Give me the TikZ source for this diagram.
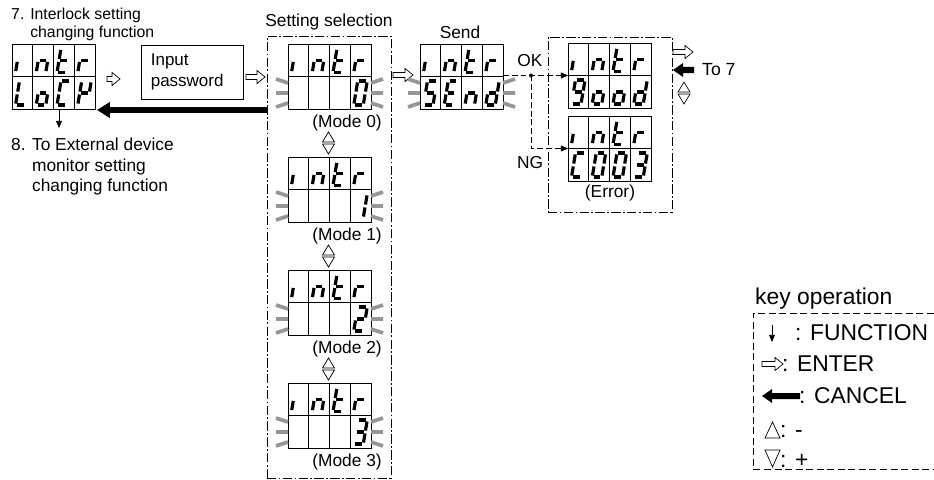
\documentclass[tikz,border=0pt]{standalone}
\usepackage{fontspec}
\setmainfont{Liberation Sans}
\usetikzlibrary{arrows.meta}
\definecolor{Blink_gray}{RGB}{150, 150, 150}

%% segments of one display cell (a top, b/c right, d bottom, e/f left, g middle)
\def\sega{\draw[seg] (0.15,2) -- (0.85,2);}
\def\segb{\draw[seg] (1,1.88) -- (1,1.12);}
\def\segc{\draw[seg] (1,0.88) -- (1,0.12);}
\def\segd{\draw[seg] (0.15,0) -- (0.85,0);}
\def\sege{\draw[seg] (0,0.88) -- (0,0.12);}
\def\segf{\draw[seg] (0,1.88) -- (0,1.12);}
\def\segg{\draw[seg] (0.15,1) -- (0.85,1);}
\def\segz{}

%% characters
\def\glyphi{e}
\def\glyphn{c,e,g}
\def\glypht{d,e,f,g}
\def\glyphr{e,g}
\def\glyphL{d,e,f}
\def\glypho{c,d,e,g}
\def\glyphC{a,d,e,f}
\def\glyphK{b,e,f,g}
\def\glyphS{a,c,d,f,g}
\def\glyphE{a,d,e,f,g}
\def\glyphd{b,c,d,e,g}
\def\glyphg{a,b,c,d,f,g}
\def\glyphz{z}
\expandafter\def\csname glyph0\endcsname{a,b,c,d,e,f}
\expandafter\def\csname glyph1\endcsname{b,c}
\expandafter\def\csname glyph2\endcsname{a,b,d,e,g}
\expandafter\def\csname glyph3\endcsname{a,b,c,d,g}

\newcommand\lcdchar[3]{%
  \begin{scope}[shift={(#1,#2)}, x={(0.285cm,0)}, y={(0.06cm,0.36cm)}]
    \edef\seglist{\csname glyph#3\endcsname}
    \foreach \s in \seglist {\csname seg\s\endcsname}
  \end{scope}}

\newcommand\lcd[4]{%
  \node[lcdbox] (#1) at #2 {};
  \begin{scope}[shift={(#1.north west)}]
    \draw[lcdgrid] (0,32.5) -- (83,32.5);
    \foreach \col in {1,2,3} \draw[lcdgrid] (\col*20.75,0) -- (\col*20.75,65);
    \foreach \ch [count=\col from 0] in {#3} {\lcdchar{\col*20.75+3.5}{28.5}{\ch}}
    \foreach \ch [count=\col from 0] in {#4} {\lcdchar{\col*20.75+3.5}{61}{\ch}}
  \end{scope}}

\newcommand\blink[1]{%
  \begin{scope}[shift={(#1.north west)}]
    \draw[blinkbar] (-12,35) -- (0,39) (-12,49) -- (0,49) (-12,63) -- (0,59)
      (95,35) -- (83,39) (95,49) -- (83,49) (95,63) -- (83,59);
  \end{scope}}

\begin{document}
\begin{tikzpicture}[x=0.03cm, y=-0.03cm,
    seg/.style={line width=2.7pt},
    lcdbox/.style={draw, line width=0.6pt, minimum width=2.49cm, minimum height=1.95cm,
      inner sep=0pt, outer sep=0pt, anchor=north west},
    lcdgrid/.style={line width=0.6pt},
    blinkbar/.style={Blink_gray, line width=3.2pt},
    lbl/.style={font=\fontsize{14.8}{17}\selectfont, inner sep=0pt},
    keylbl/.style={font=\fontsize{19.5}{22}\selectfont, inner sep=0pt, anchor=west},
    dashdotbox/.style={draw, line width=0.6pt, dash pattern=on 8pt off 2pt on 1.5pt off 2pt,
      inner sep=0pt},
    okline/.style={line width=0.6pt, dash pattern=on 5pt off 2.5pt,
      -{Stealth[length=6pt,width=5pt,inset=0pt]}},
    funckey/.style={line width=0.6pt, -{Stealth[length=6pt,width=5pt,inset=0pt]}},
    cancelline/.style={line width=5pt, -{Stealth[length=11pt,width=13pt,inset=0pt]}},
    pics/enterkey/.style={code={\draw[line width=0.6pt, fill=white] (0,-2.5) -- (#1-8,-2.5)
      -- (#1-8,-6.5) -- (#1,0) -- (#1-8,6.5) -- (#1-8,2.5) -- (0,2.5) -- cycle;}},
    pics/cancelkey/.style={code={\fill (0,0) -- (10,-7) -- (10,-3) -- (#1,-3) -- (#1,3)
      -- (10,3) -- (10,7) -- cycle;}},
    pics/updown/.style={code={\draw[line width=0.6pt] (-6,-1) -- (6,-1) -- (0,-11) -- cycle
      (-6,1) -- (6,1) -- (0,11) -- cycle;}}
  ]
  \useasboundingbox (0,0) rectangle (934,479);

  %% Interlock setting display
  \node[lbl, anchor=west, align=left, font=\fontsize{13.5}{15.5}\selectfont] (fn7) at (11,24)
    {7. Interlock setting\\\phantom{7. }changing function};
  \lcd{lock}{(12,44)}{i,n,t,r}{L,o,C,K}
  \coordinate (fnend) at (59,128);
  \draw[funckey] (lock.south -| fnend) -- (fnend);
  \node[lbl, anchor=west, align=left, font=\fontsize{14.8}{17.5}\selectfont] (fn8) at (11,167)
    {8. To External device\\\phantom{8. }monitor setting\\\phantom{8. }changing function};

  %% Password
  \pic at (107,79) {enterkey=13};
  \node[draw, line width=0.6pt, lbl, text width=2.5cm, align=left, minimum height=1.62cm,
    inner xsep=0.27cm, font=\fontsize{14.5}{18}\selectfont] (pw) at (192.5,72) {Input\\password};
  \pic at (246,77) {enterkey=19};

  %% Setting selection
  \node[dashdotbox, minimum width=3.72cm, minimum height=13.26cm] (setbox) at (329,257) {};
  \node[lbl] (setlabel) at (329,22) {Setting selection};
  \foreach \k in {0,...,3} {
    \lcd{sel\k}{(288,44+113*\k)}{i,n,t,r}{z,z,z,\k}
    \blink{sel\k}
    \node[lbl] (mode\k) at (347,123+113*\k) {(Mode \k)};
  }
  \foreach \k in {0,1,2} \pic at (328.5,143+113*\k) {updown};
  \coordinate (lockback) at (97,110);
  \draw[cancelline] (setbox.west |- lockback) -- (lockback);

  %% Send
  \pic at (393,75) {enterkey=20};
  \node[lbl] (sendlabel) at (460,32) {Send};
  \lcd{send}{(420,44)}{i,n,t,r}{S,E,n,d}
  \blink{send}

  %% Result
  \node[dashdotbox, minimum width=3.72cm, minimum height=5.25cm] (resbox) at (610,124.5) {};
  \lcd{good}{(568,43)}{i,n,t,r}{g,o,o,d}
  \lcd{err}{(568,116)}{i,n,t,r}{C,0,0,3}
  \node[lbl] (errlabel) at (610,193) {(Error)};
  \coordinate (okdot) at (good.west -| 531,0);
  \fill (okdot) circle (2);
  \draw[okline] (send.east |- okdot) -- (good.west);
  \draw[okline] (okdot) |- (err.west);
  \node[lbl] (oklabel) at (530,61) {OK};
  \node[lbl] (nglabel) at (530,163) {NG};
  \pic at (673,52) {enterkey=20};
  \pic at (673,70) {cancelkey=21};
  \node[lbl, anchor=west, font=\fontsize{15}{18}\selectfont] (to7) at (702,70) {To 7};
  \pic at (684,93) {updown};

  %% key operation
  \node[keylbl] (keytitle) at (755,299) {key operation};
  \draw[line width=0.6pt, dash pattern=on 6pt off 3pt] (934,313) -| (753,469) -- (934,469);
  \coordinate (keyfn) at (772,342);
  \draw[funckey] (keyfn |- 0,325) -- (keyfn);
  \node[keylbl] (keyfntxt) at (795,333) {: FUNCTION};
  \pic at (762,364) {enterkey=21};
  \node[keylbl] (keyentertxt) at (782,364) {: ENTER};
  \pic at (762,396) {cancelkey=38};
  \node[keylbl] (keycanceltxt) at (799,396) {: CANCEL};
  \draw[line width=0.6pt] (765,438) -- (780,438) -- (772.5,422) -- cycle;
  \node[keylbl] (keyminus) at (780,431) {: -};
  \draw[line width=0.6pt] (765,450) -- (780,450) -- (772.5,467) -- cycle;
  \node[keylbl] (keyplus) at (780,461) {: +};
\end{tikzpicture}
\end{document}
